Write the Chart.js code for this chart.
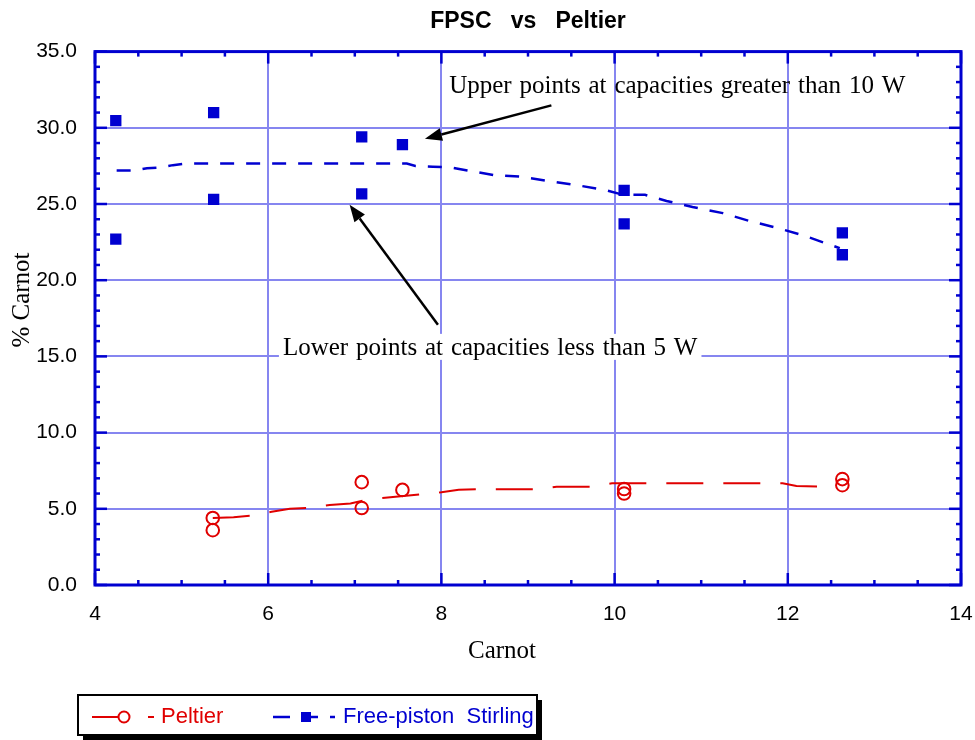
<!DOCTYPE html>
<html><head><meta charset="utf-8">
<script src="https://cdn.jsdelivr.net/npm/chart.js@4/dist/chart.umd.min.js"></script>
<style>html,body{margin:0;padding:0;background:#fff}</style>
</head><body>
<canvas id="c" width="975" height="740"></canvas>
<script>
// ---------- data ----------
const chartTitle = 'FPSC   vs   Peltier';
const xAxisTitle = 'Carnot';
const yAxisTitle = '% Carnot';
const xTickValues = [4, 6, 8, 10, 12, 14];
const yTickLabels = ['0.0', '5.0', '10.0', '15.0', '20.0', '25.0', '30.0', '35.0'];
const seriesNames = ['Peltier', 'Free-piston  Stirling'];

const peltierX = [5.36, 5.36, 7.08, 7.08, 7.55, 10.11, 10.11, 12.63, 12.63];
const peltierY = [4.4, 3.6, 6.75, 5.05, 6.24, 6.3, 6.0, 6.95, 6.55];

const peltierFitX = [5.36, 5.6, 5.81, 6.04, 6.25, 6.46, 6.71, 6.95, 7.14, 7.35, 7.78, 8.0, 8.2, 8.42, 9.1, 9.33, 9.75, 9.97, 11.94, 12.1, 12.37];
const peltierFitY = [4.4, 4.45, 4.55, 4.8, 5.0, 5.05, 5.25, 5.35, 5.6, 5.73, 5.95, 6.08, 6.25, 6.28, 6.28, 6.45, 6.45, 6.68, 6.68, 6.5, 6.45];

const fpscX = [4.24, 4.24, 5.37, 5.37, 7.08, 7.08, 7.55, 10.11, 10.11, 12.63, 12.63];
const fpscY = [30.47, 22.7, 31.0, 25.3, 29.4, 25.67, 28.9, 25.9, 23.7, 23.1, 21.67];

const fpscFitX = [4.25, 4.45, 4.6, 4.75, 4.9, 5.05, 5.5, 6.0, 6.5, 7.0, 7.6, 7.7, 7.9, 8.1, 8.3, 8.6, 8.9, 9.25, 9.6, 9.9, 10.1, 10.35, 10.6, 10.9, 11.25, 11.55, 11.9, 12.2, 12.45, 12.6];
const fpscFitY = [27.2, 27.2, 27.35, 27.4, 27.55, 27.65, 27.65, 27.65, 27.65, 27.65, 27.65, 27.5, 27.45, 27.4, 27.2, 26.9, 26.8, 26.5, 26.2, 25.9, 25.6, 25.6, 25.2, 24.8, 24.4, 23.9, 23.4, 22.9, 22.4, 22.1];

const upperNote = 'Upper points at capacities greater than 10 W';
const lowerNote = 'Lower points at capacities less than 5 W';

// ---------- styling ----------
const RED = '#e00000';
const BLUE = '#0000d0';
const GRID = '#8686f0';
const SANS = '"Liberation Sans", Arial, sans-serif';
const SERIF = '"Liberation Serif", "Times New Roman", serif';

const pts = (xs, ys) => xs.map((x, i) => ({x, y: ys[i]}));

// annotation anchors in data units
const notes = {
  upper: {text: upperNote, x: 8.09, y: 32.3, tail: [9.27, 31.47], tip: [7.81, 29.28], bg: false},
  lower: {text: lowerNote, x: 6.17, y: 15.1, tail: [7.96, 17.07], tip: [6.94, 24.95], bg: true}
};

function arrow(ctx, x1, y1, x2, y2) {
  const ang = Math.atan2(y2 - y1, x2 - x1);
  const L = 17, W = 6.5;
  const bx = x2 - L * Math.cos(ang), by = y2 - L * Math.sin(ang);
  ctx.save();
  ctx.strokeStyle = '#000'; ctx.fillStyle = '#000'; ctx.lineWidth = 2.5;
  ctx.beginPath(); ctx.moveTo(x1, y1); ctx.lineTo(bx, by); ctx.stroke();
  ctx.beginPath();
  ctx.moveTo(x2, y2);
  ctx.lineTo(bx + W * Math.sin(ang), by - W * Math.cos(ang));
  ctx.lineTo(bx - W * Math.sin(ang), by + W * Math.cos(ang));
  ctx.closePath(); ctx.fill();
  ctx.restore();
}

const decor = {
  id: 'decor',
  beforeDraw(chart) {
    const ctx = chart.ctx;
    ctx.save(); ctx.fillStyle = '#fff'; ctx.fillRect(0, 0, chart.width, chart.height); ctx.restore();
  },
  afterDraw(chart) {
    const ctx = chart.ctx, a = chart.chartArea;
    const xs = chart.scales.x, ys = chart.scales.y;
    ctx.save();
    // frame with inward ticks
    ctx.strokeStyle = BLUE;
    ctx.lineWidth = 2.5;
    for (let v = 4; v <= 14.001; v += 0.5) {
      const px = xs.getPixelForValue(v);
      const len = Math.abs(v % 2) < 1e-6 ? 12 : 5;
      ctx.beginPath(); ctx.moveTo(px, a.bottom); ctx.lineTo(px, a.bottom - len); ctx.stroke();
      ctx.beginPath(); ctx.moveTo(px, a.top); ctx.lineTo(px, a.top + len); ctx.stroke();
    }
    for (let v = 0; v <= 35.001; v += 1) {
      const py = ys.getPixelForValue(v);
      const len = Math.abs(v % 5) < 1e-6 ? 12 : 5;
      ctx.beginPath(); ctx.moveTo(a.left, py); ctx.lineTo(a.left + len, py); ctx.stroke();
      ctx.beginPath(); ctx.moveTo(a.right, py); ctx.lineTo(a.right - len, py); ctx.stroke();
    }
    ctx.lineWidth = 3;
    ctx.strokeRect(a.left, a.top, a.right - a.left, a.bottom - a.top);

    // annotations
    ctx.font = '25px ' + SERIF;
    try { ctx.wordSpacing = '1.6px'; } catch (e) {}
    ctx.textBaseline = 'alphabetic';
    ctx.textAlign = 'left';
    for (const k of Object.keys(notes)) {
      const n = notes[k];
      const tx = xs.getPixelForValue(n.x), ty = ys.getPixelForValue(n.y);
      if (n.bg) {
        const w = ctx.measureText(n.text).width;
        ctx.fillStyle = '#fff';
        ctx.fillRect(tx - 4, ty - 21, w + 8, 26);
      }
      ctx.fillStyle = '#000';
      ctx.fillText(n.text, tx, ty);
      arrow(ctx, xs.getPixelForValue(n.tail[0]), ys.getPixelForValue(n.tail[1]),
                 xs.getPixelForValue(n.tip[0]), ys.getPixelForValue(n.tip[1]));
    }
    try { ctx.wordSpacing = '0px'; } catch (e) {}

    // axis titles
    ctx.fillStyle = '#000';
    ctx.font = '25px ' + SERIF;
    ctx.textAlign = 'center'; ctx.textBaseline = 'middle';
    ctx.fillText(xAxisTitle, xs.getPixelForValue(8.7), a.bottom + 66);
    ctx.save();
    ctx.translate(22, ys.getPixelForValue(18.7));
    ctx.rotate(-Math.PI / 2);
    ctx.fillText(yAxisTitle, 0, 0);
    ctx.restore();

    // legend box
    const L = {x: 78, y: 695, w: 459, h: 40};
    ctx.fillStyle = '#000';
    ctx.fillRect(L.x + 5, L.y + 5, L.w, L.h);
    ctx.fillStyle = '#fff';
    ctx.fillRect(L.x, L.y, L.w, L.h);
    ctx.lineWidth = 2; ctx.strokeStyle = '#000';
    ctx.strokeRect(L.x, L.y, L.w, L.h);
    const cy = L.y + 22;
    // Peltier entry
    ctx.strokeStyle = RED; ctx.lineWidth = 2;
    ctx.beginPath(); ctx.moveTo(92, cy); ctx.lineTo(118, cy); ctx.stroke();
    ctx.beginPath(); ctx.arc(124, cy, 5.5, 0, Math.PI * 2); ctx.stroke();
    ctx.beginPath(); ctx.moveTo(148, cy); ctx.lineTo(154, cy); ctx.stroke();
    ctx.fillStyle = RED; ctx.font = '22px ' + SANS; ctx.textAlign = 'left'; ctx.textBaseline = 'middle';
    ctx.fillText(seriesNames[0], 161, cy);
    // FPSC entry
    ctx.strokeStyle = BLUE; ctx.lineWidth = 2.5;
    ctx.beginPath(); ctx.moveTo(273, cy); ctx.lineTo(290, cy); ctx.stroke();
    ctx.fillStyle = BLUE; ctx.fillRect(301, cy - 5, 10, 10);
    ctx.beginPath(); ctx.moveTo(311, cy); ctx.lineTo(318, cy); ctx.stroke();
    ctx.beginPath(); ctx.moveTo(330, cy); ctx.lineTo(335, cy); ctx.stroke();
    ctx.fillText(seriesNames[1], 343, cy);
    ctx.restore();
  }
};

new Chart(document.getElementById('c'), {
  type: 'scatter',
  data: {
    datasets: [
      {label: 'Peltier fit', data: pts(peltierFitX, peltierFitY), showLine: true, pointRadius: 0,
       borderColor: RED, borderWidth: 2, borderDash: [37, 20], fill: false, tension: 0},
      {label: 'Free-piston Stirling fit', data: pts(fpscFitX, fpscFitY), showLine: true, pointRadius: 0,
       borderColor: BLUE, borderWidth: 2.5, borderDash: [14, 12], fill: false, tension: 0},
      {label: seriesNames[0], data: pts(peltierX, peltierY), pointStyle: 'circle', pointRadius: 6.3,
       pointBorderWidth: 2, borderColor: RED, backgroundColor: 'rgba(0,0,0,0)'},
      {label: seriesNames[1], data: pts(fpscX, fpscY), pointStyle: 'rect', pointRadius: 8,
       pointBorderWidth: 0, borderColor: BLUE, backgroundColor: BLUE}
    ]
  },
  options: {
    responsive: false, animation: false, devicePixelRatio: 1,
    layout: {autoPadding: false, padding: {left: 0, right: 14, top: 0, bottom: 75}},
    plugins: {
      legend: {display: false}, tooltip: {enabled: false},
      title: {display: true, text: chartTitle, fullSize: false, color: '#000',
              font: {family: SANS, size: 23, weight: 'bold'}, padding: {top: 8, bottom: 16}}
    },
    scales: {
      x: {type: 'linear', min: 4, max: 14,
          afterFit: s => { s.height = 80; s.paddingLeft = 0; s.paddingRight = 0; },
          afterBuildTicks: s => { s.ticks = xTickValues.map(v => ({value: v})); },
          grid: {color: GRID, lineWidth: 2, drawTicks: false},
          border: {display: false},
          ticks: {padding: 17, color: '#000', font: {family: SANS, size: 21}, maxRotation: 0,
                  callback: v => String(v)}},
      y: {type: 'linear', min: 0, max: 35,
          afterFit: s => { s.width = 95; s.paddingTop = 0; s.paddingBottom = 0; },
          afterBuildTicks: s => { s.ticks = yTickLabels.map((t, i) => ({value: i * 5})); },
          grid: {color: GRID, lineWidth: 2, drawTicks: false},
          border: {display: false},
          ticks: {padding: 18, color: '#000', font: {family: SANS, size: 21},
                  callback: (v) => yTickLabels[Math.round(v / 5)]}}
    }
  },
  plugins: [decor]
});
</script>
</body></html>
